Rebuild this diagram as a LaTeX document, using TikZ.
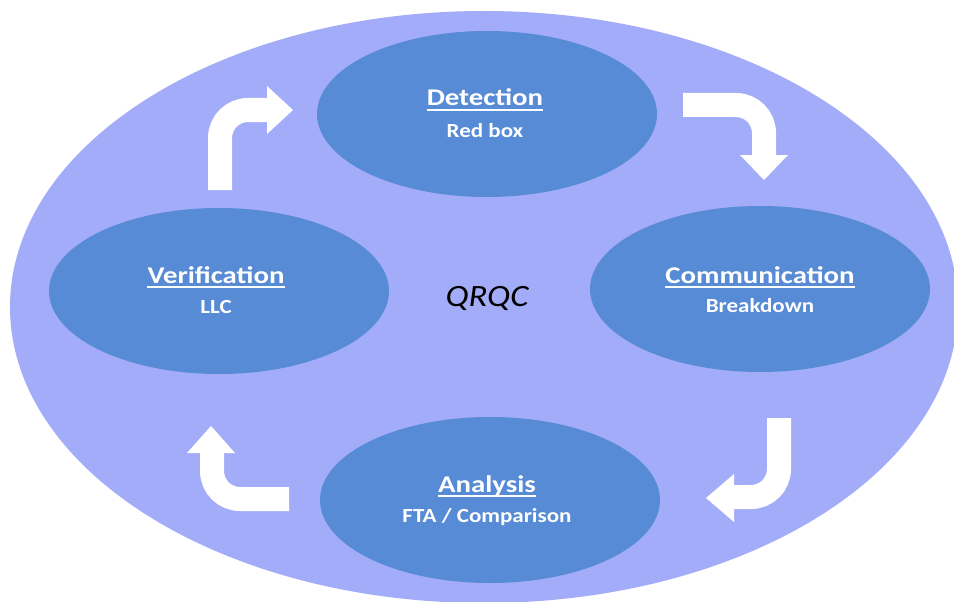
\documentclass[tikz,border=0pt]{standalone}
\usepackage{fontspec}
\setmainfont{Carlito}
\usetikzlibrary{shapes.geometric}
\definecolor{bigfill}{HTML}{A3ACF8}
\definecolor{bubblefill}{HTML}{578BD5}
\newcommand{\wideb}[2][1.2]{\scalebox{#1}[1]{#2}}
\newcommand{\ttl}[1]{\wideb{\textbf{#1}}}
\tikzset{
  bubble/.style={ellipse, fill=bubblefill, draw=none, inner sep=0pt, outer sep=0pt, minimum width=340pt, minimum height=166pt},
  titletext/.style={text=white, anchor=base, inner sep=0pt, font=\fontsize{24}{26}\selectfont\bfseries},
  subtext/.style={text=white, anchor=base, inner sep=0pt, font=\fontsize{20}{22}\selectfont\bfseries},
  uline/.style={white, line width=1.8pt},
  shaft/.style={white, line width=24pt, rounded corners=28pt},
  head/.style={fill=white, draw=none}
}
\begin{document}
\begin{tikzpicture}[x=1pt,y=-1pt]
\useasboundingbox (0,0) rectangle (954,602);
\fill[white] (0,0) rectangle (954,602);
\begin{scope}
\clip (0,0) rectangle (954,602);
\node[ellipse, fill=bigfill, inner sep=0pt, minimum width=948pt, minimum height=592pt] (outer) at (484,307) {};
\end{scope}
% bubbles
\node[bubble] (det) at (487,114) {};
\node[bubble] (ver) at (219,291) {};
\node[bubble] (com) at (760,289) {};
\node[bubble] (ana) at (490,500) {};
% titles
\node[titletext] (detT) at (485,106) {\ttl{Detection}};
\node[subtext] (detS) at (485,137) {\wideb[1.15]{Red box}};
\node[titletext] (verT) at (216,283) {\ttl{Verification}};
\node[subtext] (verS) at (216,313) {\wideb[1.15]{LLC}};
\node[titletext] (comT) at (760,283) {\ttl{Communication}};
\node[subtext] (comS) at (760,312) {\wideb[1.15]{Breakdown}};
\node[titletext] (anaT) at (487,492) {\ttl{Analysis}};
\node[subtext] (anaS) at (487,522) {\wideb[1.15]{FTA / Comparison}};
% underlines
\draw[uline] ([yshift=-4pt]detT.base west) -- ([yshift=-4pt]detT.base east);
\draw[uline] ([yshift=-4pt]verT.base west) -- ([yshift=-4pt]verT.base east);
\draw[uline] ([yshift=-4pt]comT.base west) -- ([yshift=-4pt]comT.base east);
\draw[uline] ([yshift=-4pt]anaT.base west) -- ([yshift=-4pt]anaT.base east);
% centre label
\node[anchor=base, inner sep=0pt, font=\fontsize{31}{33}\selectfont\itshape] (qrqc) at (487,306) {\wideb[1.12]{QRQC}};
% arrows
\draw[shaft] (220,190) -- (220,110) -- (268,110);
\fill[head] (267,86) -- (293,110) -- (267,134) -- cycle;
\draw[shaft] (683,105) -- (764,105) -- (764,156);
\fill[head] (740,155) -- (764,180) -- (788,155) -- cycle;
\draw[shaft] (779,418) -- (779,497) -- (733,497);
\fill[head] (734,474) -- (706,498) -- (734,522) -- cycle;
\draw[shaft] (289,499) -- (212,499) -- (212,452);
\fill[head] (187,453) -- (211,426) -- (235,453) -- cycle;
\end{tikzpicture}
\end{document}
